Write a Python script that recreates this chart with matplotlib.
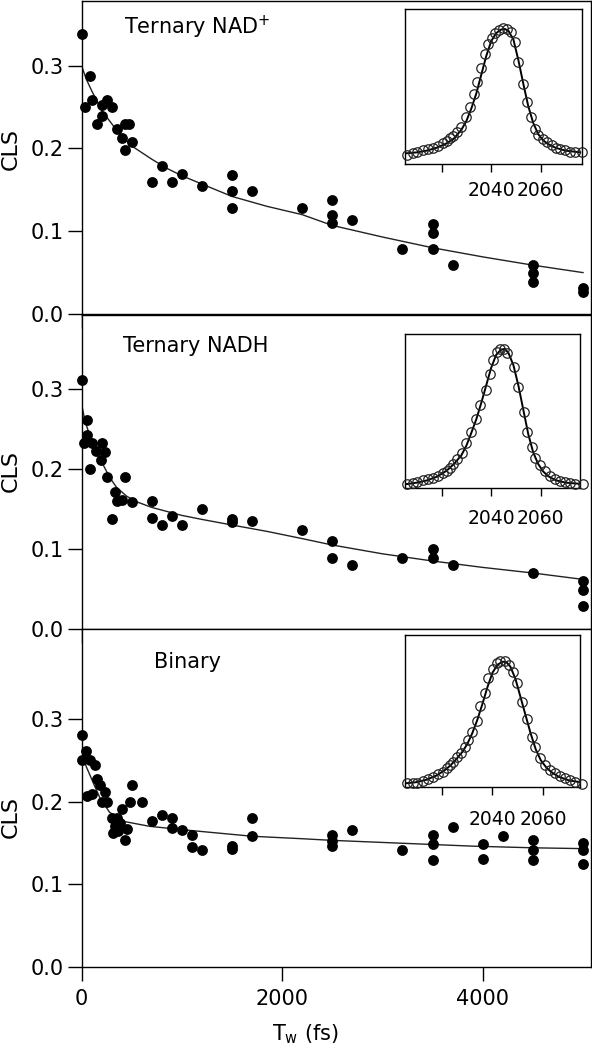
#!/usr/bin/env python3
"""CLS decays for ternary NAD+, ternary NADH and binary complexes, with IR spectra insets."""

import matplotlib
matplotlib.use("Agg")
import matplotlib.pyplot as plt

# --- main panels: waiting time Tw (fs) vs CLS -------------------------------
TW_NADP = [0, 35, 85, 100, 150, 200, 200, 250, 300, 350, 400, 430, 430, 470, 500,
           700, 800, 900, 1000, 1200, 1500, 1500, 1500, 1700, 2200, 2500, 2500, 2500,
           2700, 3200, 3500, 3500, 3500, 3700, 4500, 4500, 4500, 5000, 5000]
CLS_NADP = [0.338, 0.250, 0.288, 0.259, 0.230, 0.239, 0.252, 0.259, 0.250, 0.224,
            0.212, 0.229, 0.198, 0.230, 0.208, 0.159, 0.179, 0.159, 0.169, 0.154,
            0.168, 0.148, 0.128, 0.149, 0.128, 0.138, 0.119, 0.110, 0.114, 0.079,
            0.109, 0.098, 0.079, 0.059, 0.059, 0.049, 0.039, 0.031, 0.026]
FIT_TW_NADP = [0, 50, 100, 200, 350, 500, 700, 850, 1000, 1200, 1500, 1850, 2200,
               2500, 3000, 3500, 4000, 4500, 5000]
FIT_CLS_NADP = [0.300, 0.283, 0.270, 0.246, 0.222, 0.203, 0.187, 0.176, 0.167, 0.157,
                0.142, 0.130, 0.120, 0.107, 0.093, 0.080, 0.069, 0.059, 0.050]

TW_NADH = [0, 25, 52, 52, 85, 100, 140, 195, 200, 235, 250, 305, 335, 350, 400, 435,
           500, 700, 700, 800, 900, 1000, 1200, 1500, 1500, 1700, 2200, 2500, 2500,
           2700, 3200, 3500, 3500, 3700, 4500, 5000, 5000, 5000]
CLS_NADH = [0.311, 0.232, 0.261, 0.242, 0.200, 0.233, 0.222, 0.211, 0.233, 0.221,
            0.190, 0.137, 0.171, 0.160, 0.161, 0.190, 0.159, 0.160, 0.139, 0.130,
            0.141, 0.130, 0.150, 0.137, 0.134, 0.135, 0.124, 0.110, 0.089, 0.080,
            0.089, 0.100, 0.089, 0.080, 0.070, 0.060, 0.049, 0.029]
FIT_TW_NADH = [0, 25, 50, 100, 150, 200, 250, 300, 350, 450, 550, 700, 850, 1000, 1200,
               1500, 1850, 2200, 2500, 3000, 3500, 4000, 4500, 5000]
FIT_CLS_NADH = [0.282, 0.266, 0.254, 0.236, 0.222, 0.209, 0.197, 0.186, 0.177, 0.166,
                0.159, 0.152, 0.147, 0.142, 0.137, 0.130, 0.122, 0.113, 0.105, 0.094,
                0.085, 0.077, 0.070, 0.062]

TW_BIN = [0, 0, 42, 52, 85, 101, 135, 150, 185, 201, 234, 251, 300, 317, 334, 351, 367,
          384, 400, 434, 457, 484, 500, 600, 700, 806, 905, 905, 1005, 1105, 1105, 1205,
          1500, 1500, 1700, 1700, 2500, 2500, 2500, 2700, 3200, 3500, 3500, 3500, 3700,
          4000, 4000, 4200, 4500, 4500, 4500, 5000, 5000, 5000]
CLS_BIN = [0.281, 0.250, 0.261, 0.207, 0.250, 0.209, 0.244, 0.227, 0.220, 0.200, 0.211,
           0.200, 0.180, 0.162, 0.170, 0.180, 0.164, 0.174, 0.191, 0.154, 0.167, 0.200,
           0.220, 0.200, 0.176, 0.184, 0.180, 0.168, 0.165, 0.160, 0.145, 0.141, 0.146,
           0.143, 0.180, 0.158, 0.160, 0.152, 0.146, 0.165, 0.141, 0.160, 0.149, 0.129,
           0.169, 0.149, 0.130, 0.158, 0.154, 0.141, 0.129, 0.150, 0.141, 0.124]
FIT_TW_BIN = [0, 45, 120, 185, 280, 420, 680, 1000, 1350, 1700, 2200, 2500, 3100, 3900,
              4500, 5000]
FIT_CLS_BIN = [0.265, 0.243, 0.222, 0.204, 0.187, 0.176, 0.170, 0.166, 0.162, 0.158,
               0.155, 0.153, 0.150, 0.146, 0.144, 0.143]

# --- insets: normalised IR absorption vs wavenumber (cm-1) -------------------
IR_X_NADP = [2006.1, 2008.3, 2010.2, 2012.3, 2014.6, 2016.6, 2018.6, 2020.4, 2022.0,
             2023.4, 2024.7, 2026.3, 2027.8, 2029.7, 2031.4, 2033.1, 2034.4, 2036.1,
             2037.5, 2038.8, 2040.2, 2041.5, 2043.2, 2044.9, 2046.5, 2048.0, 2049.6,
             2051.0, 2053.0, 2054.3, 2056.0, 2057.7, 2059.0, 2060.8, 2062.4, 2064.4,
             2066.2, 2067.8, 2069.8, 2071.8, 2073.9, 2076.6]
IR_Y_NADP = [-0.013, 0.000, 0.013, 0.024, 0.035, 0.046, 0.062, 0.080, 0.099, 0.121,
             0.139, 0.169, 0.214, 0.290, 0.375, 0.475, 0.571, 0.689, 0.796, 0.877,
             0.925, 0.965, 0.992, 1.005, 1.000, 0.979, 0.893, 0.737, 0.555, 0.410,
             0.295, 0.193, 0.147, 0.115, 0.088, 0.067, 0.046, 0.035, 0.024, 0.013,
             0.008, 0.008]

IR_X_NADH = [2006.1, 2008.3, 2010.2, 2012.3, 2014.6, 2016.6, 2018.6, 2020.4, 2022.0,
             2023.4, 2024.7, 2026.3, 2028.1, 2029.8, 2031.7, 2033.9, 2035.5, 2037.9,
             2039.5, 2040.9, 2042.2, 2043.6, 2045.2, 2046.5, 2049.2, 2051.0, 2053.3,
             2054.3, 2056.4, 2057.7, 2059.7, 2061.7, 2063.8, 2065.8, 2067.8, 2069.8,
             2071.8, 2073.9, 2077.0]
IR_Y_NADH = [0.000, 0.012, 0.020, 0.030, 0.039, 0.049, 0.064, 0.081, 0.101, 0.123,
             0.148, 0.185, 0.229, 0.303, 0.384, 0.483, 0.586, 0.697, 0.813, 0.919,
             0.975, 1.000, 1.000, 0.968, 0.869, 0.722, 0.532, 0.384, 0.278, 0.192,
             0.143, 0.099, 0.064, 0.039, 0.025, 0.015, 0.007, 0.000, 0.000]

IR_X_BIN = [2006.5, 2008.6, 2010.4, 2012.5, 2014.7, 2016.7, 2018.7, 2020.4, 2022.0,
            2023.3, 2024.6, 2026.2, 2027.5, 2029.2, 2030.5, 2031.8, 2033.8, 2035.1,
            2037.0, 2038.4, 2040.3, 2041.6, 2043.0, 2044.9, 2046.6, 2048.2, 2049.5,
            2051.5, 2053.5, 2055.4, 2056.7, 2058.7, 2060.7, 2062.6, 2064.6, 2066.6,
            2068.5, 2070.5, 2072.5, 2075.1]
IR_Y_BIN = [0.000, 0.000, 0.005, 0.022, 0.036, 0.055, 0.077, 0.096, 0.123, 0.151,
            0.178, 0.214, 0.252, 0.301, 0.356, 0.425, 0.515, 0.636, 0.740, 0.863,
            0.937, 0.986, 1.008, 1.008, 0.973, 0.918, 0.822, 0.671, 0.526, 0.384,
            0.296, 0.205, 0.151, 0.110, 0.082, 0.060, 0.041, 0.027, 0.014, -0.005]

IR_FIT_X = [2005.5, 2010, 2014, 2018, 2022, 2025, 2028, 2030, 2032, 2034, 2036, 2038,
            2040, 2042, 2044, 2045.5, 2047, 2049, 2051, 2053, 2055, 2057, 2059, 2061,
            2063, 2066, 2070, 2076]
IR_FIT_NADP = [0.000, 0.008, 0.022, 0.045, 0.080, 0.120, 0.190, 0.260, 0.360, 0.480,
               0.630, 0.780, 0.900, 0.965, 0.995, 1.000, 0.985, 0.915, 0.750, 0.560,
               0.380, 0.245, 0.155, 0.105, 0.075, 0.045, 0.022, 0.008]
IR_FIT_NADH = [0.000, 0.012, 0.028, 0.055, 0.100, 0.150, 0.215, 0.285, 0.380, 0.480,
               0.600, 0.730, 0.860, 0.955, 0.995, 1.000, 0.970, 0.880, 0.730, 0.550,
               0.370, 0.235, 0.150, 0.095, 0.060, 0.030, 0.012, 0.003]
IR_FIT_BIN = [0.000, 0.010, 0.030, 0.065, 0.120, 0.180, 0.255, 0.320, 0.410, 0.520,
              0.650, 0.790, 0.910, 0.975, 1.000, 0.995, 0.960, 0.860, 0.710, 0.560,
              0.410, 0.280, 0.190, 0.135, 0.095, 0.055, 0.025, 0.005]

LABELS = ["Ternary NAD$^{+}$", "Ternary NADH", "Binary"]

W, H = 592, 1050


def box(left, top, right, bottom):
    """pixel box -> figure fraction rect"""
    return [left / W, 1 - bottom / H, (right - left) / W, (bottom - top) / H]


def main() -> None:
    plt.rcParams["font.family"] = ["DejaVu Sans"]
    plt.rcParams["mathtext.default"] = "regular"

    fig = plt.figure(figsize=(W / 100, H / 100), dpi=100)

    panels = [
        (TW_NADP, CLS_NADP, FIT_TW_NADP, FIT_CLS_NADP, box(81.5, 1, 590.5, 314), 0.378,
         0.526, (0.227, 0.917)),
        (TW_NADH, CLS_NADH, FIT_TW_NADH, FIT_CLS_NADH, box(81.5, 315, 590.5, 629), 0.3925,
         0.504, (0.225, 0.901)),
        (TW_BIN, CLS_BIN, FIT_TW_BIN, FIT_CLS_BIN, box(81.5, 629, 590.5, 966.7), 0.409,
         0.444, (0.209, 0.902)),
    ]
    insets = [
        (IR_X_NADP, IR_Y_NADP, IR_FIT_NADP, box(405, 9, 581.7, 164.3),
         (2005.2, 2076.6), (-0.088, 1.16), 6),
        (IR_X_NADH, IR_Y_NADH, IR_FIT_NADH, box(405, 334.3, 580, 488.3),
         (2005.2, 2075.9), (-0.030, 1.108), 9),
        (IR_X_BIN, IR_Y_BIN, IR_FIT_BIN, box(405, 635, 580, 786.7),
         (2005.6, 2074.4), (-0.027, 1.219), 11),
    ]

    for i, (tw, cls, ftw, fcls, rect, ytop, ylab_y, txt) in enumerate(panels):
        ax = fig.add_axes(rect)
        ax.plot(ftw, fcls, color="#222222", lw=1.0, zorder=2)
        ax.plot(tw, cls, "o", color="black", ms=7.8, mew=0, zorder=3, clip_on=False)
        ax.set_xlim(0, 5075)
        ax.set_ylim(0, ytop)
        ax.set_xticks([0, 2000, 4000])
        ax.set_yticks([0.0, 0.1, 0.2, 0.3])
        ax.set_yticklabels(["0.0", "0.1", "0.2", "0.3"])
        for sp in ax.spines.values():
            sp.set_linewidth(1.0)
        ax.tick_params(direction="out", length=10, width=1.0, labelsize=15, pad=3)
        ax.tick_params(axis="x", pad=6)
        if i < 2:
            ax.tick_params(labelbottom=False)
        ax.set_ylabel("CLS", fontsize=16)
        ax.yaxis.set_label_coords(-0.12, ylab_y)
        ax.text(txt[0], txt[1], LABELS[i], transform=ax.transAxes, fontsize=15,
                ha="center", va="center")
        if i == 2:
            ax.set_xlabel("T$_{w}$ (fs)", fontsize=15)
            ax.xaxis.set_label_coords(0.44, -0.165)

    for x, y, fit, rect, xl, yl, pad in insets:
        ins = fig.add_axes(rect)
        ins.plot(IR_FIT_X, fit, color="black", lw=1.4, zorder=2)
        ins.plot(x, y, "o", mfc="none", mec="#222222", ms=6.8, mew=0.9, zorder=3,
                 clip_on=False)
        ins.set_xlim(*xl)
        ins.set_ylim(*yl)
        ins.set_xticks([2020, 2040, 2060])
        ins.set_xticklabels(["", "2040", "2060"])
        ins.set_yticks([])
        for sp in ins.spines.values():
            sp.set_linewidth(1.0)
        ins.tick_params(axis="x", direction="out", length=6, width=1.0,
                        labelsize=13.5, pad=pad)

    fig.savefig("out.png", dpi=100)


if __name__ == "__main__":
    main()
